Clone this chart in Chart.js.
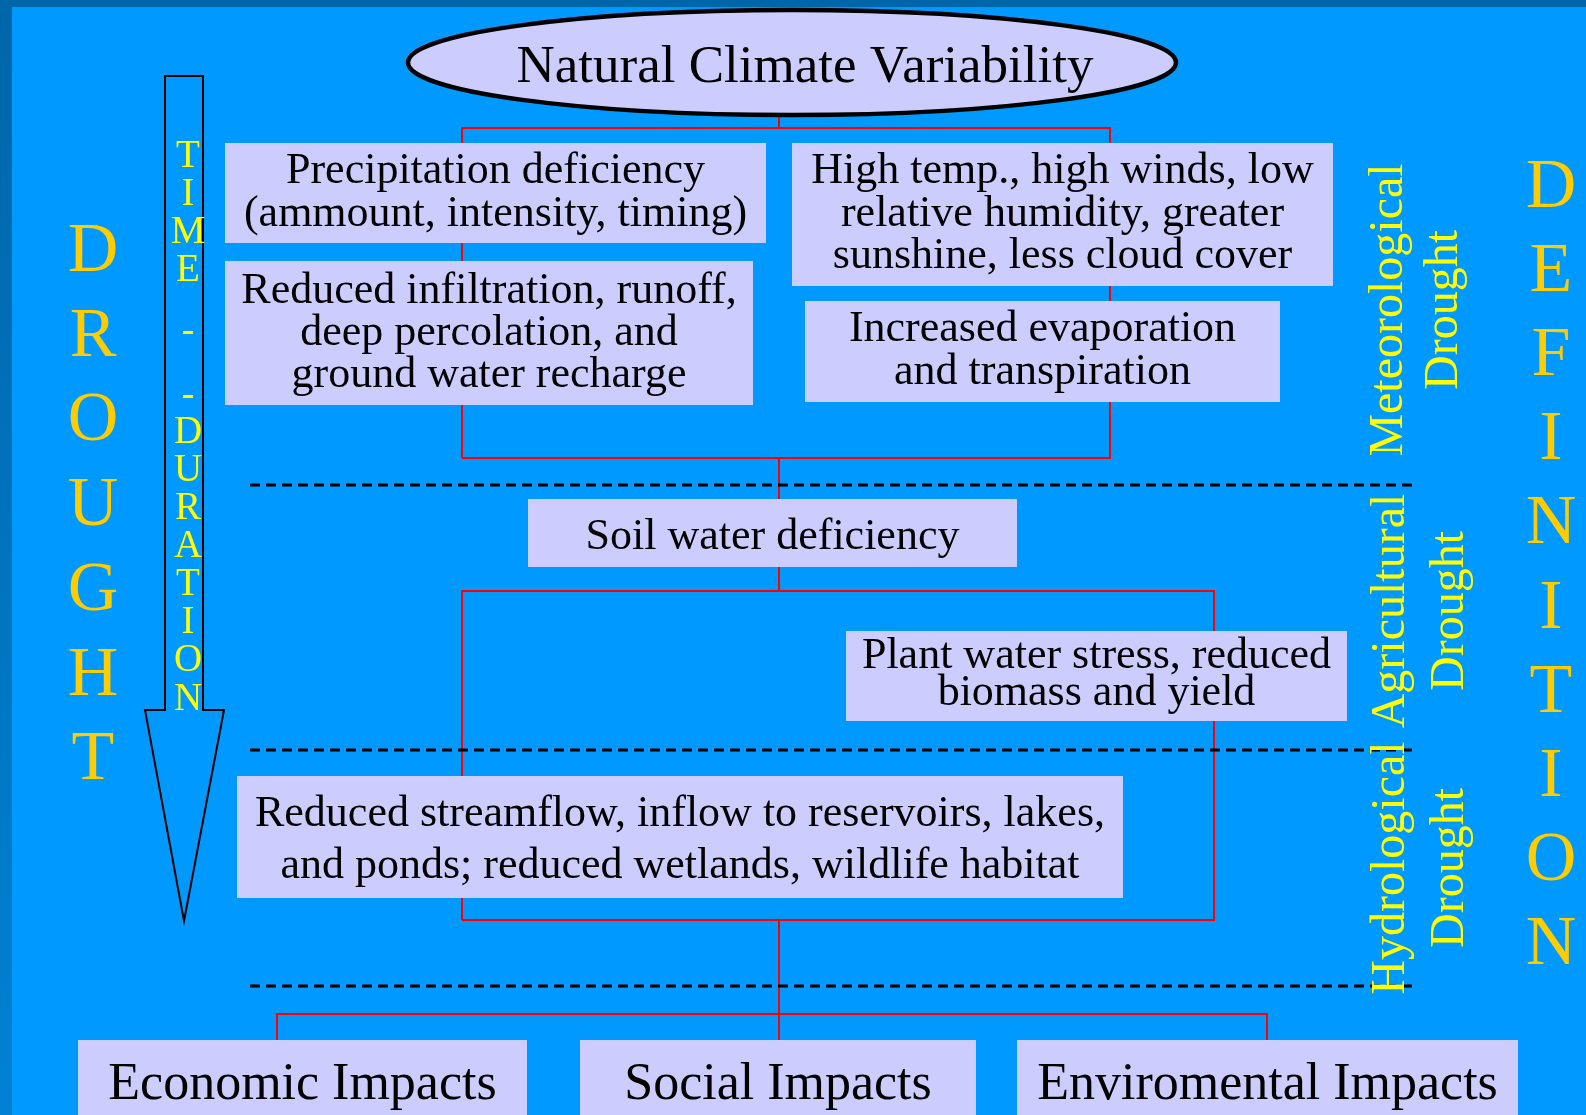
<!DOCTYPE html>
<html>
<head>
<meta charset="utf-8">
<script src="https://cdn.jsdelivr.net/npm/chart.js@4.4.1/dist/chart.umd.min.js"></script>
<style>
  html, body { margin: 0; padding: 0; background: #0099ff; overflow: hidden; }
  canvas { display: block; }
</style>
</head>
<body>
<canvas id="diagram" width="1586" height="1115"></canvas>
<script>
// texts of the flow chart (top to bottom)
var nodeTexts = [
    ['Natural Climate Variability'],
    ['Precipitation deficiency', '(ammount, intensity, timing)'],
    ['Reduced infiltration, runoff,', 'deep percolation, and', 'ground water recharge'],
    ['High temp., high winds, low', 'relative humidity, greater', 'sunshine, less cloud cover'],
    ['Increased evaporation', 'and transpiration'],
    ['Soil water deficiency'],
    ['Plant water stress, reduced', 'biomass and yield'],
    ['Reduced streamflow, inflow to reservoirs, lakes,', 'and ponds; reduced wetlands, wildlife habitat'],
    ['Economic Impacts'],
    ['Social Impacts'],
    ['Enviromental Impacts']
];
var droughtTypes = [
    ['Meteorological', 'Drought'],
    ['Agricultural', 'Drought'],
    ['Hydrological', 'Drought']
];
var leftWord = 'DROUGHT'.split('');
var rightWord = 'DEFINITION'.split('');
var arrowWord = ['T', 'I', 'M', 'E', '-', '-', 'D', 'U', 'R', 'A', 'T', 'I', 'O', 'N'];

// layout (value space = picture pixels, mapped through the hidden scales)
var W = 1586, H = 1115;
var boxLayout = [
    { ellipse: true, x0: 408, y0: 10, x1: 1176, y1: 115, tx: 805, base: 82, step: 0, font: 53 },
    { x0: 225, y0: 143, x1: 766, y1: 243, base: 183, step: 43, font: 44 },
    { x0: 225, y0: 261, x1: 753, y1: 405, base: 303, step: 42, font: 44 },
    { x0: 792, y0: 143, x1: 1333, y1: 286, base: 183, step: 42.5, font: 44 },
    { x0: 805, y0: 301, x1: 1280, y1: 402, base: 341, step: 43, font: 44 },
    { x0: 528, y0: 499, x1: 1017, y1: 567, base: 549, step: 0, font: 44 },
    { x0: 846, y0: 631, x1: 1347, y1: 721, base: 668, step: 37, font: 44 },
    { x0: 237, y0: 776, x1: 1123, y1: 898, base: 826, step: 52, font: 44 },
    { x0: 78, y0: 1040, x1: 527, y1: 1125, base: 1099, step: 0, font: 52 },
    { x0: 580, y0: 1040, x1: 976, y1: 1125, base: 1099, step: 0, font: 52 },
    { x0: 1017, y0: 1040, x1: 1518, y1: 1125, base: 1099, step: 0, font: 52 }
];
var redLines = [
    [[779, 115], [779, 128]],
    [[462, 458], [462, 128], [1110, 128], [1110, 458], [462, 458]],
    [[779, 458], [779, 499]],
    [[779, 567], [779, 591]],
    [[462, 920], [462, 591], [1214, 591], [1214, 920], [462, 920]],
    [[779, 920], [779, 1040]],
    [[277, 1040], [277, 1014], [1267, 1014], [1267, 1040]]
];
var dashY = [485, 750, 986];
var typeLayout = [
    { y: 310, x1: 1402, x2: 1457 },
    { y: 611, x1: 1404, x2: 1463 },
    { y: 868, x1: 1404, x2: 1463 }
];
var arrowBase = [167, 205, 243, 281, 342, 406, 443, 481, 519, 557, 595, 633, 671, 710];

var SERIF = '"Liberation Serif", "Times New Roman", serif';

var diagramPlugin = {
    id: 'droughtDiagram',
    beforeDraw: function (chart) {
        var c = chart.ctx;
        var sx = chart.scales.x, sy = chart.scales.y;
        var X = function (v) { return sx.getPixelForValue(v); };
        var Y = function (v) { return sy.getPixelForValue(v); };
        c.save();
        c.fillStyle = '#0099ff';
        c.fillRect(X(0), Y(0), X(W) - X(0), Y(H) - Y(0));
        // dark frame, top and left
        c.fillStyle = '#0066aa';
        c.fillRect(X(0), Y(0), X(W) - X(0), Y(7) - Y(0));
        var g = c.createLinearGradient(0, Y(0), 0, Y(H));
        g.addColorStop(0, '#0066aa');
        g.addColorStop(1, '#0082d2');
        c.fillStyle = g;
        c.fillRect(X(0), Y(0), X(12) - X(0), Y(H) - Y(0));
        c.restore();
    },
    afterDatasetsDraw: function (chart) {
        var c = chart.ctx;
        var sx = chart.scales.x, sy = chart.scales.y;
        var X = function (v) { return sx.getPixelForValue(v); };
        var Y = function (v) { return sy.getPixelForValue(v); };
        c.save();

        // red connectors
        c.strokeStyle = '#ff0000';
        c.lineWidth = 2;
        redLines.forEach(function (pts) {
            c.beginPath();
            pts.forEach(function (p, i) {
                if (i === 0) c.moveTo(X(p[0]), Y(p[1]));
                else c.lineTo(X(p[0]), Y(p[1]));
            });
            c.stroke();
        });

        // dashed separators
        c.strokeStyle = '#000000';
        c.lineWidth = 3;
        c.setLineDash([10, 6]);
        dashY.forEach(function (y) {
            c.beginPath();
            c.moveTo(X(250), Y(y));
            c.lineTo(X(1413), Y(y));
            c.stroke();
        });
        c.setLineDash([]);

        // time arrow
        c.beginPath();
        c.moveTo(X(165), Y(76));
        c.lineTo(X(203), Y(76));
        c.lineTo(X(203), Y(710));
        c.lineTo(X(224), Y(710));
        c.lineTo(X(184), Y(921));
        c.lineTo(X(145), Y(710));
        c.lineTo(X(165), Y(710));
        c.closePath();
        c.fillStyle = '#0099ff';
        c.fill();
        c.lineWidth = 2;
        c.strokeStyle = '#000000';
        c.stroke();

        // boxes and their text
        boxLayout.forEach(function (b, i) {
            var x0 = X(b.x0), x1 = X(b.x1), y0 = Y(b.y0), y1 = Y(b.y1);
            c.fillStyle = '#ccccff';
            if (b.ellipse) {
                c.beginPath();
                c.ellipse((x0 + x1) / 2, (y0 + y1) / 2, (x1 - x0) / 2, (y1 - y0) / 2, 0, 0, Math.PI * 2);
                c.fill();
                c.lineWidth = 4.5;
                c.strokeStyle = '#000000';
                c.stroke();
            } else {
                c.fillRect(x0, y0, x1 - x0, y1 - y0);
            }
            c.fillStyle = '#000000';
            c.font = b.font + 'px ' + SERIF;
            c.textAlign = 'center';
            c.textBaseline = 'alphabetic';
            var tx = b.tx !== undefined ? X(b.tx) : (x0 + x1) / 2;
            nodeTexts[i].forEach(function (line, k) {
                c.fillText(line, tx, Y(b.base + k * b.step));
            });
        });

        // rotated drought type labels
        c.fillStyle = '#ffff00';
        c.font = '48px ' + SERIF;
        c.textAlign = 'center';
        droughtTypes.forEach(function (t, i) {
            var l = typeLayout[i];
            [l.x1, l.x2].forEach(function (bx, k) {
                c.save();
                c.translate(X(bx), Y(l.y));
                c.rotate(-Math.PI / 2);
                c.fillText(t[k], 0, 0);
                c.restore();
            });
        });

        // big vertical words
        c.fillStyle = '#ffcc00';
        c.font = '70px ' + SERIF;
        leftWord.forEach(function (ch, i) {
            c.fillText(ch, X(93), Y(271 + i * 84.7));
        });
        rightWord.forEach(function (ch, i) {
            c.fillText(ch, X(1551), Y(207 + i * 84.1));
        });

        // TIME - - DURATION inside arrow
        c.fillStyle = '#ffff00';
        c.font = '39px ' + SERIF;
        arrowWord.forEach(function (ch, i) {
            c.fillText(ch, X(188), Y(arrowBase[i]));
        });

        c.restore();
    }
};

var ctx = document.getElementById('diagram').getContext('2d');
var chart = new Chart(ctx, {
    type: 'scatter',
    data: { datasets: [{ data: [], pointRadius: 0 }] },
    options: {
        responsive: false,
        animation: false,
        devicePixelRatio: 1,
        events: [],
        layout: { padding: 0 },
        plugins: { legend: { display: false }, tooltip: { enabled: false } },
        scales: {
            x: { type: 'linear', min: 0, max: W, display: false },
            y: { type: 'linear', min: 0, max: H, reverse: true, display: false }
        }
    },
    plugins: [diagramPlugin]
});
</script>
</body>
</html>
